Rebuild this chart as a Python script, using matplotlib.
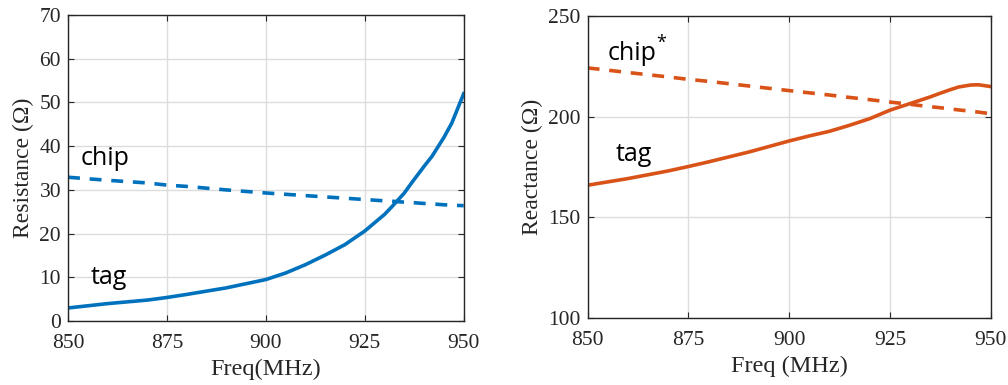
import matplotlib.pyplot as plt
import numpy as np

# 频率 (MHz)
freq = [850, 860, 870, 875, 880, 890, 900, 905, 910, 915, 920, 925, 930, 932, 935, 937, 940, 942, 945, 947, 950]

# 电阻
tag_res = [3.0, 4.0, 4.8, 5.4, 6.1, 7.6, 9.5, 11.0, 12.9, 15.1, 17.5, 20.6, 24.4, 26.3, 29.3, 31.8, 35.4, 37.7, 42.0, 45.3, 52.0]
chip_res = [32.9, 32.2, 31.6, 31.1, 30.8, 30.0, 29.3, 29.0, 28.7, 28.4, 28.1, 27.8, 27.5, 27.4, 27.2, 27.1, 26.9, 26.8, 26.6, 26.5, 26.4]

# 电抗
tag_x = [166.0, 169.3, 173.1, 175.3, 177.6, 182.5, 188.0, 190.5, 192.8, 195.8, 199.1, 203.3, 206.6, 207.9, 209.9, 211.4, 213.5, 214.8, 215.8, 215.9, 215.0]
chip_x = [224.3, 222.0, 219.8, 218.6, 217.6, 215.3, 213.0, 211.9, 210.8, 209.6, 208.5, 207.3, 206.2, 205.7, 205.0, 204.6, 203.9, 203.4, 202.8, 202.3, 201.5]

blue = '#0072BD'
orange = '#D95319'
dark = '#262626'

plt.rcParams['font.family'] = ['Liberation Serif', 'DejaVu Serif']

fig = plt.figure(figsize=(10.08, 3.85), dpi=100)
ax1 = fig.add_axes([0.0675, 0.166, 0.3925, 0.795])
ax2 = fig.add_axes([0.583, 0.174, 0.400, 0.784])

sans = ['Open Sans', 'DejaVu Sans']
dash = (0, (3.3, 2.7))

def style(ax):
    ax.grid(True, color='#dcdcdc', linewidth=1)
    ax.set_axisbelow(True)
    ax.tick_params(direction='in', top=True, right=True, labelsize=15.5,
                   length=4, width=0.8, color=dark, labelcolor=dark)
    ax.tick_params(axis='x', pad=9.5)
    ax.tick_params(axis='y', pad=5)
    for s in ax.spines.values():
        s.set_color(dark)
        s.set_linewidth(1)
    ax.set_xlim(850, 950)
    ax.set_xticks([850, 875, 900, 925, 950])

# 左图：电阻
ax1.plot(freq, tag_res, color=blue, linewidth=2.6)
ax1.plot(freq, chip_res, color=blue, linewidth=2.6, linestyle=dash)
style(ax1)
ax1.set_ylim(0, 70)
ax1.set_yticks(range(0, 71, 10))
ax1.set_xlabel('Freq(MHz)', fontsize=17.5, color=dark, labelpad=4)
ax1.set_ylabel('Resistance (Ω)', fontsize=17, color=dark, labelpad=4)
ax1.text(853.3, 35.8, 'chip', fontsize=18, family=sans)
ax1.text(855.8, 8.4, 'tag', fontsize=18, family=sans)

# 右图：电抗
ax2.plot(freq, tag_x, color=orange, linewidth=2.6)
ax2.plot(freq, chip_x, color=orange, linewidth=2.6, linestyle=dash)
style(ax2)
ax2.set_ylim(100, 250)
ax2.set_yticks(range(100, 251, 50))
ax2.set_xlabel('Freq (MHz)', fontsize=17.5, color=dark, labelpad=4)
ax2.set_ylabel('Reactance (Ω)', fontsize=17, color=dark, labelpad=4)
chip_t = ax2.text(855.0, 228.0, 'chip', fontsize=18, family=sans)
ax2.annotate('*', xy=(1.0, 0.95), xycoords=chip_t, ha='left', va='center',
             fontsize=13, family=sans)
ax2.text(857.0, 178.0, 'tag', fontsize=18, family=sans)

fig.savefig('out.png', dpi=100)
